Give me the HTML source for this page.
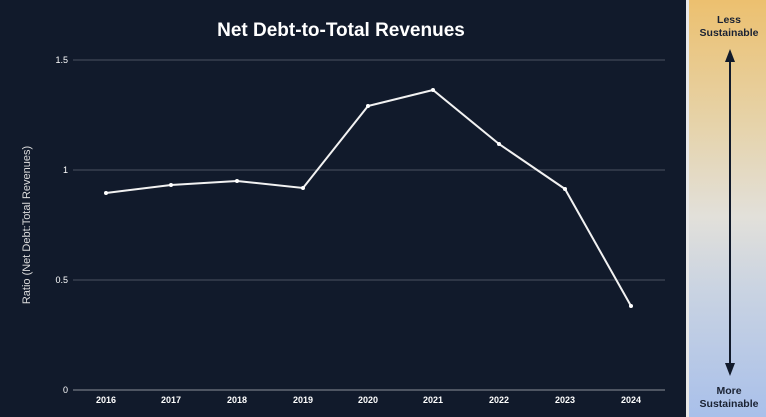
<!DOCTYPE html>
<html><head><style>
body{margin:0;width:766px;height:417px;background:#111a2b;overflow:hidden;font-family:"Liberation Sans",sans-serif;position:relative}
.panel{position:absolute;left:686px;top:0;width:80px;height:417px;background:linear-gradient(#ecc06f,#e6d3aa 30%,#e2e0da 52%,#c9d3e2 70%,#a9c0ea);border-left:3px solid #e8e8e8;box-sizing:border-box}
.lbl{position:absolute;left:0;width:80px;text-align:center;font-size:10.5px;font-weight:bold;color:#1a2233;line-height:13px}
</style></head><body>
<svg width="686" height="417" style="position:absolute;left:0;top:0">
<text x="341" y="36" fill="#fff" font-size="19" font-weight="bold" text-anchor="middle" font-family="Liberation Sans">Net Debt-to-Total Revenues</text>
<g stroke="#4a5262" stroke-width="1">
<line x1="73" y1="60" x2="665" y2="60"/><line x1="73" y1="170" x2="665" y2="170"/><line x1="73" y1="280" x2="665" y2="280"/></g>
<line x1="73" y1="390" x2="665" y2="390" stroke="#8a909a" stroke-width="1"/>
<g fill="#fff" font-size="9" text-anchor="end" font-family="Liberation Sans">
<text x="68" y="63">1.5</text><text x="68" y="173">1</text><text x="68" y="283">0.5</text><text x="68" y="393">0</text></g>
<g fill="#fff" font-size="9" font-weight="bold" text-anchor="middle" font-family="Liberation Sans">
<text x="106" y="403">2016</text><text x="171" y="403">2017</text><text x="237" y="403">2018</text><text x="303" y="403">2019</text><text x="368" y="403">2020</text><text x="433" y="403">2021</text><text x="499" y="403">2022</text><text x="565" y="403">2023</text><text x="631" y="403">2024</text></g>
<text transform="translate(30,225) rotate(-90)" fill="#ddd" font-size="11" text-anchor="middle" font-family="Liberation Sans">Ratio (Net Debt:Total Revenues)</text>
<polyline fill="none" stroke="#f2f2f2" stroke-width="2" points="106,193 171,185 237,181 303,188 368,106 433,90 499,144 565,189 631,306"/>
<g fill="#fff"><circle cx="106" cy="193" r="2"/><circle cx="171" cy="185" r="2"/><circle cx="237" cy="181" r="2"/><circle cx="303" cy="188" r="2"/><circle cx="368" cy="106" r="2"/><circle cx="433" cy="90" r="2"/><circle cx="499" cy="144" r="2"/><circle cx="565" cy="189" r="2"/><circle cx="631" cy="306" r="2"/></g>
</svg>
<div class="panel">
<div class="lbl" style="top:14px">Less<br>Sustainable</div>
<svg width="80" height="417" style="position:absolute;left:-3px;top:0">
<line x1="44" y1="60" x2="44" y2="365" stroke="#111a2b" stroke-width="2"/>
<polygon points="44,49 39,62 49,62" fill="#111a2b"/>
<polygon points="44,376 39,363 49,363" fill="#111a2b"/>
</svg>
<div class="lbl" style="top:385px">More<br>Sustainable</div>
</div>
</body></html>
